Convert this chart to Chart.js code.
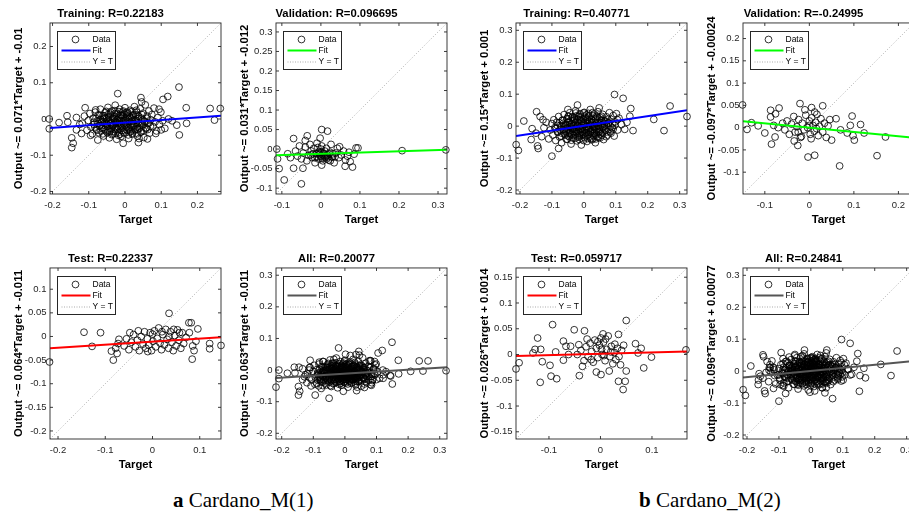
<!DOCTYPE html>
<html>
<head>
<meta charset="utf-8">
<script src="https://cdn.jsdelivr.net/npm/chart.js@4.4.1/dist/chart.umd.min.js"></script>
<style>
    body { margin: 0; width: 909px; height: 517px; overflow: hidden; background: #fff; position: relative; }
    canvas { position: absolute; }
    .cap { position: absolute; top: 490px; font-family: "Liberation Serif", "Times New Roman", serif; font-size: 21px; line-height: 1; color: #000; white-space: nowrap; }
</style>
</head>
<body>
<div class="cap" style="left:173px"><b>a</b> Cardano_M(1)</div>
<div class="cap" style="left:639px"><b>b</b> Cardano_M(2)</div>
<script>
// 資料點 (Target, Output)
const aTrain = [
    [-0.209,0.0],[-0.209,-0.027],[-0.182,-0.01],[-0.16,0.009],[-0.158,-0.009],[-0.134,0.004],[-0.147,-0.052],[-0.143,-0.067],
    [-0.147,-0.079],[-0.134,-0.03],[-0.11,0.031],[-0.081,0.025],[-0.02,0.07],[-0.005,-0.067],[0.044,0.059],[0.046,0.047],
    [0.037,-0.065],[0.039,-0.054],[0.105,0.054],[0.118,0.062],[0.149,0.088],[0.169,0.031],[0.17,-0.012],[0.15,-0.044],
    [0.143,-0.017],[0.235,0.029],[0.263,0.029],[0.247,-0.003],[0.094,0.027],[0.12,0.0],[0.13,-0.005],[-0.125,-0.015],
    [-0.12,-0.04],[0.085,-0.04],[0.1,-0.03],[0.062,-0.055],[-0.075,-0.058],[-0.095,-0.045],
    [-0.118,-0.012],[-0.112,0.008],[-0.105,-0.031],[-0.101,-0.004],[-0.097,0.015],[-0.094,-0.022],[-0.09,-0.041],[-0.088,0.002],
    [-0.085,-0.015],[-0.082,0.019],[-0.079,-0.028],[-0.077,-0.006],[-0.074,0.011],[-0.072,-0.038],[-0.07,-0.018],[-0.068,0.027],
    [-0.066,-0.002],[-0.063,-0.026],[-0.061,0.009],[-0.059,-0.047],[-0.057,-0.012],[-0.055,0.018],[-0.053,-0.033],[-0.051,0.001],
    [-0.049,-0.021],[-0.047,0.032],[-0.045,-0.008],[-0.043,-0.052],[-0.041,0.013],[-0.04,-0.027],[-0.038,-0.003],[-0.036,0.022],
    [-0.034,-0.041],[-0.032,-0.015],[-0.031,0.006],[-0.029,-0.029],[-0.027,0.038],[-0.025,-0.009],[-0.023,-0.056],[-0.022,0.015],
    [-0.02,-0.021],[-0.018,0.002],[-0.016,-0.036],[-0.015,0.027],[-0.013,-0.013],[-0.011,-0.048],[-0.009,0.009],[-0.008,-0.025],
    [-0.006,0.019],[-0.004,-0.004],[-0.002,-0.039],[0.0,0.031],[0.002,-0.017],[0.004,0.004],[0.006,-0.031],[0.008,0.014],
    [0.01,-0.054],[0.012,-0.008],[0.014,0.024],[0.016,-0.022],[0.018,0.001],[0.02,-0.042],[0.022,0.011],[0.024,-0.014],
    [0.026,0.034],[0.028,-0.029],[0.03,-0.003],[0.032,0.019],[0.034,-0.047],[0.036,-0.011],[0.038,0.007],[0.04,-0.024],
    [0.042,0.028],[0.044,-0.036],[0.046,0.002],[0.048,-0.016],[0.05,0.016],[0.052,-0.051],[0.054,-0.006],[0.056,0.039],
    [0.058,-0.027],[0.061,0.008],[0.063,-0.013],[0.066,0.022],[0.068,-0.039],[0.071,-0.002],[0.074,0.012],[0.077,-0.021],
    [0.08,0.03],[0.083,-0.008],[0.087,-0.033],[0.091,0.004],[0.095,-0.015],[0.099,0.019],[0.104,-0.005],[0.11,-0.026],
    [-0.05,-0.015],[-0.045,0.005],[-0.04,-0.01],[-0.035,-0.02],[-0.03,0.0],[-0.025,-0.012],[-0.02,-0.03],[-0.015,-0.005],
    [-0.01,-0.018],[-0.005,0.01],[0.0,-0.01],[0.005,-0.022],[0.01,0.0],[0.015,-0.035],[0.02,-0.006],[0.025,-0.019],
    [0.03,0.012],[0.035,-0.028],[-0.06,0.0],[-0.065,-0.01],[-0.028,0.015],[-0.012,0.012],[0.004,0.018],[-0.042,-0.035],
    [-0.018,-0.045],[0.012,-0.03],
    [-0.061,-0.041],[-0.049,-0.038],[-0.037,-0.043],[-0.026,-0.039],[-0.014,-0.042],[-0.003,-0.037],[0.009,-0.044],[0.021,-0.039],
    [0.033,-0.041],[0.044,-0.036],[-0.078,-0.031],[-0.066,-0.033],[-0.055,-0.029],[-0.043,-0.031],[-0.031,-0.034],[-0.02,-0.028],
    [-0.008,-0.032],[0.004,-0.029],[0.016,-0.033],[0.027,-0.03],[0.039,-0.027],[0.051,-0.032],[0.063,-0.029],[-0.083,-0.022],
    [-0.071,-0.019],[-0.06,-0.023],[-0.048,-0.02],[-0.036,-0.018],[-0.025,-0.024],[-0.013,-0.02],[-0.001,-0.017],[0.011,-0.023],
    [0.022,-0.019],[0.034,-0.021],[0.046,-0.018],[0.058,-0.024],[0.07,-0.02],[-0.086,-0.009],[-0.074,-0.012],[-0.063,-0.008],
    [-0.051,-0.011],[-0.039,-0.013],[-0.028,-0.007],[-0.016,-0.01],[-0.004,-0.013],[0.007,-0.008],[0.019,-0.011],[0.031,-0.009],
    [0.042,-0.012],[0.054,-0.008],[0.066,-0.011],[-0.08,0.002],[-0.068,-0.001],[-0.057,0.003],[-0.045,-0.002],[-0.033,0.001],
    [-0.022,-0.003],[-0.01,0.002],[0.002,-0.001],[0.014,0.003],[0.025,-0.002],[0.037,0.001],[0.049,-0.003],[0.06,0.002],
    [-0.07,0.011],[-0.058,0.009],[-0.047,0.012],[-0.035,0.008],[-0.023,0.011],[-0.011,0.009],[0.0,0.012],[0.012,0.008],
    [0.024,0.011],[0.036,0.009],[0.047,0.012],[-0.052,0.021],[-0.04,0.019],[-0.028,0.023],[-0.017,0.02],[-0.005,0.022],
    [0.007,0.019],[0.019,0.021],[0.031,0.024]
];
const aVal = [
    [-0.113,0.0],[-0.111,-0.025],[-0.107,-0.05],[-0.094,-0.079],[-0.07,0.027],[-0.085,-0.012],[-0.078,-0.022],[-0.07,-0.049],
    [-0.046,-0.049],[-0.05,-0.089],[-0.035,0.034],[-0.04,0.022],[0.002,0.05],[0.017,0.046],[-0.002,0.028],[0.002,-0.041],
    [0.048,0.006],[0.063,-0.028],[0.062,-0.044],[0.081,-0.046],[0.085,-0.013],[0.09,0.003],[0.095,0.003],[0.208,-0.004],
    [0.32,-0.002],
    [-0.065,-0.005],[-0.06,-0.018],[-0.055,0.008],[-0.05,-0.025],[-0.045,-0.01],[-0.04,0.005],[-0.036,-0.03],[-0.032,-0.016],
    [-0.028,0.012],[-0.025,-0.005],[-0.022,-0.022],[-0.018,0.002],[-0.015,-0.035],[-0.012,-0.012],[-0.01,0.015],[-0.007,-0.025],
    [-0.004,-0.006],[-0.001,-0.018],[0.002,0.008],[0.005,-0.03],[0.008,-0.012],[0.011,-0.022],[0.014,0.002],[0.017,-0.015],
    [0.02,-0.028],[0.023,-0.008],[0.026,0.012],[0.03,-0.02],[0.034,-0.035],[0.038,-0.01],[0.042,0.002],[0.046,-0.022],
    [0.052,-0.015],[0.058,-0.005],[0.068,-0.018],[0.075,-0.032],[0.072,-0.008],[0.002,-0.02],[-0.005,-0.01],[0.01,-0.005],
    [-0.02,-0.012],[0.018,-0.02],[0.0,0.0],[-0.008,0.004],
    [-0.01,-0.02],[-0.004,-0.014],[0.003,-0.024],[0.009,-0.017],[0.015,-0.025],[0.021,-0.012],[0.027,-0.02],[-0.016,-0.022],
    [0.0,-0.008],[0.006,-0.01],[0.024,-0.03],[0.03,-0.012],[-0.026,-0.015],[0.013,-0.018],[0.036,-0.02]
];
const aTest = [
    [-0.218,-0.054],[-0.145,0.009],[-0.11,0.008],[-0.128,-0.021],[-0.087,-0.031],[-0.083,-0.05],[-0.078,-0.025],[-0.073,-0.015],
    [-0.071,-0.006],[-0.075,-0.036],[0.035,0.049],[0.077,0.029],[0.082,0.029],[0.096,0.016],[0.084,-0.048],[0.121,-0.015],
    [0.121,-0.026],[0.145,-0.019],[0.057,0.008],[0.063,0.008],[0.071,-0.002],[0.085,-0.02],[0.092,-0.01],[0.078,0.008],
    [0.088,-0.03],
    [-0.06,-0.02],[-0.055,-0.005],[-0.05,-0.028],[-0.045,-0.012],[-0.04,0.004],[-0.036,-0.022],[-0.032,-0.008],[-0.028,-0.03],
    [-0.024,0.0],[-0.02,-0.016],[-0.017,0.01],[-0.014,-0.025],[-0.011,-0.005],[-0.008,-0.018],[-0.005,0.008],[-0.002,-0.03],
    [0.001,-0.01],[0.004,0.012],[0.007,-0.022],[0.01,-0.004],[0.013,0.018],[0.016,-0.014],[0.019,-0.028],[0.022,0.004],
    [0.025,-0.018],[0.028,0.015],[0.031,-0.006],[0.034,-0.025],[0.038,0.01],[0.041,-0.012],[0.044,-0.03],[0.047,0.002],
    [0.05,-0.02],[0.053,0.014],[0.056,-0.008],[0.06,-0.025],[0.066,-0.015],[-0.03,0.012],[0.0,0.005],[0.02,0.01],
    [-0.01,-0.032],[0.035,0.0],[0.045,0.015],[-0.048,0.008]
];
const bTrain = [
    [-0.212,-0.058],[-0.205,-0.076],[-0.188,0.016],[-0.162,-0.008],[-0.165,-0.042],[-0.148,0.045],[-0.137,0.03],[-0.145,-0.062],
    [-0.143,-0.07],[-0.15,-0.022],[-0.132,-0.033],[-0.1,-0.094],[-0.079,-0.07],[-0.05,0.052],[-0.02,0.066],[0.048,0.057],
    [0.096,0.099],[0.123,0.087],[0.147,0.055],[0.144,0.031],[0.154,-0.014],[0.219,0.021],[0.251,-0.014],[0.27,0.063],
    [0.323,0.03],[0.105,0.02],[0.118,0.005],[0.128,-0.01],[0.135,0.012],[-0.125,-0.005],[-0.118,0.012],[-0.11,-0.04],
    [-0.128,0.02],
    [-0.105,-0.012],[-0.1,0.008],[-0.097,-0.028],[-0.094,0.02],[-0.091,-0.005],[-0.088,-0.045],[-0.085,0.012],[-0.082,-0.018],
    [-0.079,0.03],[-0.076,-0.034],[-0.073,0.002],[-0.07,-0.052],[-0.068,0.018],[-0.065,-0.011],[-0.062,0.036],[-0.06,-0.025],
    [-0.057,0.006],[-0.055,-0.041],[-0.052,0.024],[-0.05,-0.006],[-0.048,-0.031],[-0.046,0.013],[-0.044,0.042],[-0.042,-0.017],
    [-0.04,-0.056],[-0.038,0.003],[-0.036,0.029],[-0.034,-0.037],[-0.032,-0.01],[-0.03,0.017],[-0.028,-0.024],[-0.026,0.048],
    [-0.024,-0.003],[-0.022,-0.046],[-0.02,0.022],[-0.018,-0.015],[-0.016,0.009],[-0.014,-0.03],[-0.012,0.035],[-0.01,-0.007],
    [-0.008,-0.059],[-0.006,0.015],[-0.004,-0.021],[-0.002,0.004],[0.0,0.041],[0.002,-0.036],[0.004,-0.012],[0.006,0.026],
    [0.008,-0.001],[0.01,-0.048],[0.012,0.011],[0.014,-0.026],[0.016,0.033],[0.018,-0.008],[0.02,0.052],[0.022,-0.04],
    [0.024,0.019],[0.026,-0.016],[0.028,0.006],[0.03,-0.03],[0.032,0.038],[0.034,-0.003],[0.036,-0.052],[0.038,0.023],
    [0.04,-0.019],[0.042,0.01],[0.044,0.045],[0.046,-0.036],[0.048,-0.009],[0.05,0.028],[0.053,-0.024],[0.056,0.004],
    [0.059,0.037],[0.062,-0.042],[0.065,0.016],[0.068,-0.013],[0.071,0.029],[0.074,-0.028],[0.077,0.009],[0.08,0.042],
    [0.083,-0.018],[0.086,0.021],[0.089,-0.005],[0.092,0.033],[0.095,-0.031],[0.098,0.013],[0.102,0.039],[0.106,-0.012],
    [0.11,0.025],
    [-0.06,0.0],[-0.055,-0.015],[-0.05,0.012],[-0.045,-0.022],[-0.04,0.005],[-0.035,-0.008],[-0.03,0.025],[-0.025,-0.018],
    [-0.02,0.002],[-0.015,-0.035],[-0.01,0.018],[-0.005,-0.01],[0.0,0.008],[0.005,-0.022],[0.01,0.022],[0.015,-0.004],
    [0.02,-0.02],[0.025,0.012],[0.03,0.0],[0.035,-0.015],[0.04,0.032],[0.045,0.002],[0.05,-0.018],[0.055,0.018],
    [0.06,-0.006],[-0.028,0.01],[-0.012,-0.02],[0.008,0.035],[0.018,0.015],[-0.038,-0.025],[0.028,-0.04],[-0.002,-0.028],
    [0.012,-0.012],[-0.018,0.03],[0.038,-0.028],[-0.048,0.03],[0.065,0.0],[0.07,0.015],
    [-0.052,-0.041],[-0.039,-0.044],[-0.027,-0.038],[-0.014,-0.042],[-0.001,-0.045],[0.012,-0.039],[0.025,-0.043],[0.038,-0.04],
    [0.051,-0.037],[-0.071,-0.031],[-0.058,-0.028],[-0.046,-0.033],[-0.033,-0.029],[-0.02,-0.032],[-0.007,-0.027],[0.006,-0.031],
    [0.019,-0.034],[0.032,-0.028],[0.044,-0.032],[0.057,-0.029],[0.07,-0.033],[-0.082,-0.019],[-0.069,-0.022],[-0.056,-0.018],
    [-0.043,-0.021],[-0.031,-0.017],[-0.018,-0.023],[-0.005,-0.019],[0.008,-0.021],[0.021,-0.017],[0.033,-0.022],[0.046,-0.019],
    [0.059,-0.021],[0.072,-0.018],[0.085,-0.022],[-0.088,-0.008],[-0.075,-0.011],[-0.062,-0.009],[-0.049,-0.012],[-0.036,-0.008],
    [-0.024,-0.011],[-0.011,-0.009],[0.002,-0.012],[0.015,-0.008],[0.028,-0.011],[0.041,-0.009],[0.053,-0.012],[0.066,-0.008],
    [0.079,-0.011],[0.092,-0.009],[-0.083,0.002],[-0.07,-0.001],[-0.057,0.003],[-0.044,-0.002],[-0.031,0.001],[-0.019,-0.003],
    [-0.006,0.002],[0.007,-0.001],[0.02,0.003],[0.033,-0.002],[0.045,0.001],[0.058,-0.003],[0.071,0.002],[0.084,-0.001],
    [0.097,0.003],[-0.077,0.011],[-0.064,0.009],[-0.051,0.012],[-0.038,0.008],[-0.025,0.011],[-0.013,0.009],[0.0,0.012],
    [0.013,0.008],[0.026,0.011],[0.039,0.009],[0.051,0.012],[0.064,0.008],[0.077,0.011],[0.09,0.009],[-0.066,0.019],
    [-0.053,0.022],[-0.041,0.018],[-0.028,0.021],[-0.015,0.019],[-0.002,0.022],[0.011,0.018],[0.024,0.021],[0.036,0.019],
    [0.049,0.022],[0.062,0.018],[0.075,0.021],[-0.049,0.031],[-0.036,0.028],[-0.023,0.032],[-0.01,0.029],[0.003,0.031],
    [0.016,0.028],[0.029,0.032],[0.042,0.029],[0.055,0.031],[-0.025,0.041],[-0.012,0.039],[0.001,0.043],[0.014,0.04],
    [0.027,0.042]
];
const bVal = [
    [-0.15,0.051],[-0.14,-0.004],[-0.13,0.011],[-0.115,0.004],[-0.1,-0.012],[-0.087,0.039],[-0.076,0.031],[-0.068,0.044],
    [-0.087,0.024],[-0.085,-0.037],[-0.077,-0.021],[-0.021,0.054],[0.005,0.045],[0.03,0.049],[-0.003,-0.066],[0.012,-0.062],
    [0.068,-0.086],[0.096,0.026],[0.115,0.007],[0.123,-0.012],[0.152,-0.063],[0.171,-0.021],[0.05,-0.028],[0.085,-0.012],
    [0.098,-0.018],[0.101,-0.028],[0.092,0.005],[-0.034,-0.03],[-0.026,-0.04],[-0.08,0.005],[-0.07,0.0],[-0.06,0.01],
    [0.06,0.02],[0.07,-0.005],
    [-0.055,-0.005],[-0.05,0.015],[-0.045,-0.015],[-0.04,0.008],[-0.035,0.025],[-0.032,-0.01],[-0.028,0.002],[-0.024,0.018],
    [-0.02,-0.022],[-0.016,0.01],[-0.012,-0.005],[-0.008,0.028],[-0.004,0.0],[0.0,0.015],[0.002,-0.015],[0.005,0.022],
    [0.008,0.005],[0.011,-0.008],[0.014,0.012],[0.017,0.03],[0.02,-0.018],[0.023,0.003],[0.026,0.02],[0.03,-0.01],
    [0.034,0.01],[0.038,-0.022],[0.042,0.004],[0.046,0.018],[-0.01,0.04],[0.012,0.035],[-0.018,-0.02],[0.004,-0.025],
    [-0.025,-0.01],[0.0,0.005],[0.016,-0.002]
];
const bTest = [
    [-0.164,-0.028],[-0.158,-0.016],[-0.122,0.032],[-0.127,0.01],[-0.116,0.01],[-0.131,0.003],[-0.113,-0.014],[-0.117,-0.054],
    [-0.093,0.058],[-0.096,-0.042],[-0.085,-0.047],[-0.098,-0.021],[-0.087,0.005],[-0.072,0.026],[-0.067,0.016],[-0.058,0.016],
    [-0.072,-0.011],[-0.051,0.048],[-0.062,0.0],[-0.042,0.019],[-0.041,-0.041],[-0.035,-0.023],[-0.031,0.046],[0.001,-0.039],
    [-0.008,-0.034],[0.017,-0.032],[0.035,0.039],[0.05,0.066],[0.035,-0.052],[0.048,-0.052],[0.044,-0.068],[0.05,-0.032],
    [0.068,0.021],[0.079,0.012],[0.073,0.003],[0.084,-0.026],[0.099,-0.005],[0.028,0.02],[0.041,0.008],[0.045,0.018],
    [0.166,0.009],
    [-0.045,0.0],[-0.038,0.008],[-0.032,-0.012],[-0.028,0.015],[-0.024,-0.004],[-0.02,0.022],[-0.017,0.006],[-0.014,-0.015],
    [-0.011,0.028],[-0.008,0.012],[-0.005,-0.006],[-0.002,0.018],[0.001,0.032],[0.003,0.0],[0.006,0.024],[0.009,-0.012],
    [0.012,0.01],[0.015,0.036],[0.018,-0.004],[0.021,0.016],[0.024,-0.018],[0.027,0.004],[0.03,-0.01],[0.033,0.012],
    [0.036,-0.004],[0.039,-0.02],[0.01,0.03],[-0.005,0.025],[0.002,0.01],[0.007,-0.002],[-0.018,-0.01],[0.02,0.005],
    [-0.026,0.03],[0.005,0.04]
];
// All = Training + Validation + Test
const aAll = aTrain.concat(aVal, aTest);
const bAll = bTrain.concat(bVal, bTest);

// 面板順序：上排 a訓練, a驗證, b訓練, b驗證；下排 a測試, a全部, b測試, b全部
const panelData = [aTrain, aVal, bTrain, bVal, aTest, aAll, bTest, bAll];
const titles = ['Training: R=0.22183', 'Validation: R=0.096695', 'Training: R=0.40771', 'Validation: R=-0.24995',
                'Test: R=0.22337', 'All: R=0.20077', 'Test: R=0.059717', 'All: R=0.24841'];
const yLabels = ['Output ~= 0.071*Target + -0.01', 'Output ~= 0.031*Target + -0.012',
                 'Output ~= 0.15*Target + 0.001', 'Output ~= -0.097*Target + -0.00024',
                 'Output ~= 0.064*Target + -0.011', 'Output ~= 0.063*Target + -0.011',
                 'Output ~= 0.026*Target + 0.0014', 'Output ~= 0.096*Target + 0.00077'];
const xLabel = 'Target';
const legendLabels = ['Data', 'Fit', 'Y = T'];
// 軸範圍 (x 與 y 相同)
const limits = [[-0.207, 0.265], [-0.115, 0.323], [-0.2125, 0.323], [-0.149, 0.235],
                [-0.217, 0.145], [-0.218, 0.323], [-0.164, 0.168], [-0.2125, 0.323]];
// 擬合線端點
const fitLines = [
    [[-0.207, -0.0247], [0.265, 0.0088]],
    [[-0.115, -0.0156], [0.323, -0.002]],
    [[-0.2125, -0.0309], [0.323, 0.0495]],
    [[-0.149, 0.0142], [0.235, -0.0230]],
    [[-0.217, -0.0249], [0.145, -0.0017]],
    [[-0.218, -0.0247], [0.323, 0.0093]],
    [[-0.164, -0.0029], [0.168, 0.0058]],
    [[-0.2125, -0.0196], [0.323, 0.0318]]
];
const xSteps = [0.1, 0.1, 0.1, 0.1, 0.1, 0.1, 0.1, 0.1];
const ySteps = [0.1, 0.05, 0.1, 0.05, 0.05, 0.1, 0.05, 0.1];

// 版面與樣式
const fitColors = ['#0000ff', '#00ff00', '#0000ff', '#00ff00', '#ff0000', '#555555', '#ff0000', '#555555'];
const plotLefts = [50, 276, 516, 743];
const plotTops = [23, 268];
const PLOT = 171;
const FONT = '"Liberation Sans", Arial, sans-serif';

Chart.defaults.font.family = FONT;

function fmtTick(v) {
    const r = Math.round(v * 1000) / 1000;
    return r === 0 ? '0' : String(r);
}

// MATLAB 風格的外框、內向刻度與圖例
const matlabAxes = {
    id: 'matlabAxes',
    afterDraw(chart, args, opts) {
        const ctx = chart.ctx;
        const a = chart.chartArea;
        const x = chart.scales.x, y = chart.scales.y;
        ctx.save();
        ctx.strokeStyle = '#262626';
        ctx.lineWidth = 0.9;
        ctx.strokeRect(a.left, a.top, a.right - a.left, a.bottom - a.top);
        ctx.beginPath();
        x.ticks.forEach(t => {
            const px = x.getPixelForValue(t.value);
            ctx.moveTo(px, a.bottom); ctx.lineTo(px, a.bottom - 3);
            ctx.moveTo(px, a.top); ctx.lineTo(px, a.top + 3);
        });
        y.ticks.forEach(t => {
            const py = y.getPixelForValue(t.value);
            ctx.moveTo(a.left, py); ctx.lineTo(a.left + 3, py);
            ctx.moveTo(a.right, py); ctx.lineTo(a.right - 3, py);
        });
        ctx.stroke();

        // 圖例
        const lx = Math.round(a.left + 7) + 0.5, ly = Math.round(a.top + 8) + 0.5;
        ctx.fillStyle = '#fff';
        ctx.fillRect(lx, ly, 58, 38);
        ctx.strokeStyle = '#262626';
        ctx.lineWidth = 1;
        ctx.strokeRect(lx, ly, 58, 38);
        ctx.beginPath();
        ctx.arc(lx + 18, ly + 8, 3.4, 0, Math.PI * 2);
        ctx.strokeStyle = '#000';
        ctx.lineWidth = 0.8;
        ctx.stroke();
        ctx.beginPath();
        ctx.moveTo(lx + 4, ly + 19); ctx.lineTo(lx + 33, ly + 19);
        ctx.strokeStyle = opts.fitColor;
        ctx.lineWidth = 2;
        ctx.stroke();
        ctx.beginPath();
        ctx.setLineDash([1, 1.5]);
        ctx.moveTo(lx + 4, ly + 30.5); ctx.lineTo(lx + 33, ly + 30.5);
        ctx.strokeStyle = '#888';
        ctx.lineWidth = 0.7;
        ctx.stroke();
        ctx.setLineDash([]);
        ctx.fillStyle = '#000';
        ctx.font = '8.5px ' + FONT;
        ctx.textBaseline = 'middle';
        ctx.fillText(legendLabels[0], lx + 35, ly + 8);
        ctx.fillText(legendLabels[1], lx + 35, ly + 19);
        ctx.fillText(legendLabels[2], lx + 35, ly + 30.5);
        ctx.restore();
    }
};

function toXY(arr) {
    return arr.map(p => ({ x: p[0], y: p[1] }));
}

panelData.forEach((pts, i) => {
    const col = i % 4, row = Math.floor(i / 4);
    const cv = document.createElement('canvas');
    cv.width = 50 + PLOT + 12;
    cv.height = 23 + PLOT + 36;
    cv.style.left = (plotLefts[col] - 50) + 'px';
    cv.style.top = (plotTops[row] - 23) + 'px';
    document.body.appendChild(cv);

    const lo = limits[i][0], hi = limits[i][1];
    const tickFont = { family: FONT, size: 9.5 };
    const labelFont = { family: FONT, size: 11.3, weight: 'bold' };

    new Chart(cv.getContext('2d'), {
        type: 'scatter',
        data: {
            datasets: [
                {
                    label: legendLabels[1],
                    data: toXY(fitLines[i]),
                    showLine: true,
                    borderColor: fitColors[i],
                    borderWidth: 2,
                    pointRadius: 0,
                    order: 0
                },
                {
                    label: legendLabels[0],
                    data: toXY(pts),
                    pointStyle: 'circle',
                    pointRadius: 3.4,
                    borderColor: '#000',
                    borderWidth: 0.8,
                    backgroundColor: 'rgba(0,0,0,0)',
                    clip: false,
                    order: 1
                },
                {
                    label: legendLabels[2],
                    data: toXY([[lo, lo], [hi, hi]]),
                    showLine: true,
                    borderColor: '#8c8c8c',
                    borderWidth: 0.7,
                    borderDash: [1, 2],
                    pointRadius: 0,
                    order: 2
                }
            ]
        },
        options: {
            responsive: false,
            animation: false,
            events: [],
            layout: { padding: { left: 0, right: 12, top: 0, bottom: 0 } },
            plugins: {
                legend: { display: false },
                tooltip: { enabled: false },
                title: {
                    display: true,
                    text: titles[i],
                    color: '#000',
                    font: labelFont,
                    padding: { top: 7.2, bottom: 2.2 }
                },
                matlabAxes: { fitColor: fitColors[i] }
            },
            scales: {
                x: {
                    type: 'linear',
                    min: lo,
                    max: hi,
                    afterFit: s => { s.height = 36; },
                    grid: { display: false, drawTicks: false },
                    border: { display: false },
                    ticks: {
                        stepSize: xSteps[i],
                        includeBounds: false,
                        autoSkip: false,
                        maxRotation: 0,
                        padding: 6,
                        color: '#262626',
                        font: tickFont,
                        callback: fmtTick
                    },
                    title: {
                        display: true,
                        text: xLabel,
                        color: '#000',
                        font: labelFont,
                        padding: { top: 0, bottom: 3.2 }
                    }
                },
                y: {
                    type: 'linear',
                    min: lo,
                    max: hi,
                    afterFit: s => { s.width = 50; },
                    grid: { display: false, drawTicks: false },
                    border: { display: false },
                    ticks: {
                        stepSize: ySteps[i],
                        includeBounds: false,
                        autoSkip: false,
                        padding: 3.5,
                        color: '#262626',
                        font: tickFont,
                        callback: fmtTick
                    },
                    title: {
                        display: true,
                        text: yLabels[i],
                        color: '#000',
                        font: labelFont,
                        padding: { top: 11.7, bottom: 0 }
                    }
                }
            }
        },
        plugins: [matlabAxes]
    });
});
</script>
</body>
</html>
